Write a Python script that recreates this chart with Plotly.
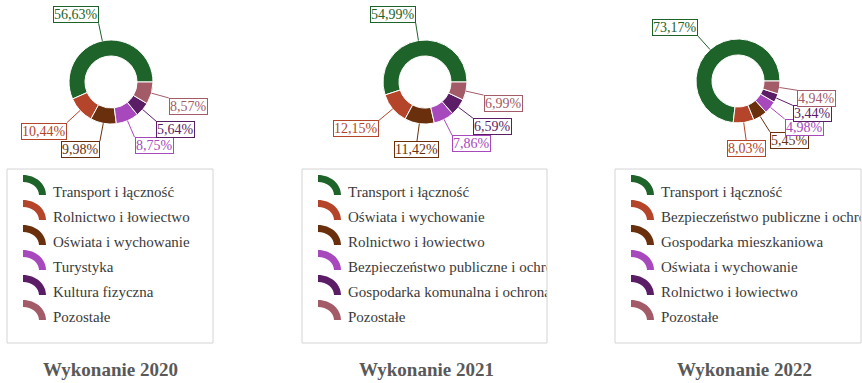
import math
import plotly.graph_objects as go

# ---- data -------------------------------------------------------------
years = ["2020", "2021", "2022"]

cats_2020 = ["Transport i łączność", "Rolnictwo i łowiectwo", "Oświata i wychowanie",
             "Turystyka", "Kultura fizyczna", "Pozostałe"]
vals_2020 = [56.63, 10.44, 9.98, 8.75, 5.64, 8.57]

cats_2021 = ["Transport i łączność", "Oświata i wychowanie", "Rolnictwo i łowiectwo",
             "Bezpieczeństwo publiczne i ochrona przeciwpożarowa",
             "Gospodarka komunalna i ochrona środowiska", "Pozostałe"]
vals_2021 = [54.99, 12.15, 11.42, 7.86, 6.59, 6.99]

cats_2022 = ["Transport i łączność", "Bezpieczeństwo publiczne i ochrona przeciwpożarowa",
             "Gospodarka mieszkaniowa", "Oświata i wychowanie", "Rolnictwo i łowiectwo",
             "Pozostałe"]
vals_2022 = [73.17, 8.03, 5.45, 4.98, 3.44, 4.94]

palette = ["#1e6329", "#b5452a", "#6a300d", "#a848bd", "#5a1d66", "#a35b67"]

# ---- layout constants (pixels) ---------------------------------------
W, H = 862, 383
FONT = "Liberation Serif"
centers = [(111, 82), (425, 82), (738, 81)]
R = 42            # outer donut radius
R_LABEL = 60      # radius where the leader lines end
boxes = [(7, 169, 213, 343), (302, 169, 547, 343), (615, 169, 861, 343)]
title_x = [111, 426, 744]
row_y0, row_dy = 193, 25

series = [(cats_2020, vals_2020), (cats_2021, vals_2021), (cats_2022, vals_2022)]


def fmt(v):
    return f"{v:.2f}".replace(".", ",") + "%"


def arc_icon(x0, yc):
    # quarter-ring legend glyph, anchored at its lower-left corner
    cx, cy = x0, yc + 11
    rx, ry, rxi, ryi = 23, 20, 16, 13
    k = 0.5523
    return (f"M {cx},{cy - ry} "
            f"C {cx + k * rx},{cy - ry} {cx + rx},{cy - k * ry} {cx + rx},{cy} "
            f"L {cx + rxi},{cy} "
            f"C {cx + rxi},{cy - k * ryi} {cx + k * rxi},{cy - ryi} {cx},{cy - ryi} Z")


fig = go.Figure()
annotations = []
shapes = []

for i, (year, (cats, vals)) in enumerate(zip(years, series)):
    cx, cy = centers[i]
    total = sum(vals)
    # first slice begins at 3 o'clock and the slices run counterclockwise
    rot = 90 - 360 * vals[0] / total
    fig.add_trace(go.Pie(
        labels=cats, values=vals, sort=False, direction="counterclockwise",
        rotation=rot, hole=0.62, textinfo="none", showlegend=False,
        marker=dict(colors=palette, line=dict(color="white", width=1)),
        domain=dict(x=[(cx - R) / W, (cx + R) / W],
                    y=[1 - (cy + R) / H, 1 - (cy - R) / H]),
        hovertemplate="%{label}: %{percent}<extra></extra>",
    ))

    # value labels: box corner sits on the end of the leader line
    cum = 0.0
    for v, col in zip(vals, palette):
        theta = math.radians((cum + v / 2) / total * 360)
        cum += v
        c, s = math.cos(theta), math.sin(theta)
        px, py = cx + R * c, cy - R * s
        if abs(c) < 0.15:
            xa = "center"
        else:
            xa = "left" if c > 0 else "right"
        ya = "bottom" if s > 0 else "top"
        annotations.append(dict(
            x=px / W, y=1 - py / H, xref="paper", yref="paper",
            ax=(R_LABEL - R) * c, ay=-(R_LABEL - R) * s,
            showarrow=True, arrowhead=0, arrowwidth=1, arrowcolor=col,
            text=fmt(v), font=dict(family=FONT, size=14, color=col),
            bgcolor="white", bordercolor=col, borderwidth=1, borderpad=0,
            xanchor=xa, yanchor=ya,
        ))

    # legend panel: an axis spanning the box so long names get clipped
    bx0, by0, bx1, by1 = boxes[i]
    ax_id = "" if i == 0 else str(i + 1)
    fig.update_layout(**{
        f"xaxis{ax_id}": dict(domain=[bx0 / W, bx1 / W], range=[bx0, bx1],
                              visible=False, fixedrange=True),
        f"yaxis{ax_id}": dict(domain=[1 - by1 / H, 1 - by0 / H], range=[by1, by0],
                              visible=False, fixedrange=True),
    })
    rows = [row_y0 + j * row_dy for j in range(len(cats))]
    fig.add_trace(go.Scatter(
        x=[bx0 + 46] * len(cats), y=rows, text=cats, mode="text",
        textposition="middle right", cliponaxis=True, showlegend=False,
        textfont=dict(family=FONT, size=15, color="#3a3a3a"), hoverinfo="skip",
        xaxis=f"x{ax_id}", yaxis=f"y{ax_id}",
    ))
    for j, col in enumerate(palette):
        shapes.append(dict(type="path", path=arc_icon(bx0 + 16, rows[j] - 9),
                           xref=f"x{ax_id}", yref=f"y{ax_id}",
                           fillcolor=col, line=dict(width=0)))
    shapes.append(dict(type="rect", xref="paper", yref="paper",
                       x0=bx0 / W, x1=bx1 / W, y0=1 - by1 / H, y1=1 - by0 / H,
                       line=dict(color="#d4d4d4", width=1), fillcolor="rgba(0,0,0,0)"))

    annotations.append(dict(
        x=title_x[i] / W, y=1 - 369 / H, xref="paper", yref="paper",
        text=f"<b>Wykonanie {year}</b>", showarrow=False,
        font=dict(family=FONT, size=19, color="#595959"),
        xanchor="center", yanchor="middle",
    ))

fig.update_layout(
    width=W, height=H, margin=dict(l=0, r=0, t=0, b=0),
    paper_bgcolor="white", plot_bgcolor="rgba(0,0,0,0)",
    annotations=annotations, shapes=shapes,
)

fig.write_html("out.html")
